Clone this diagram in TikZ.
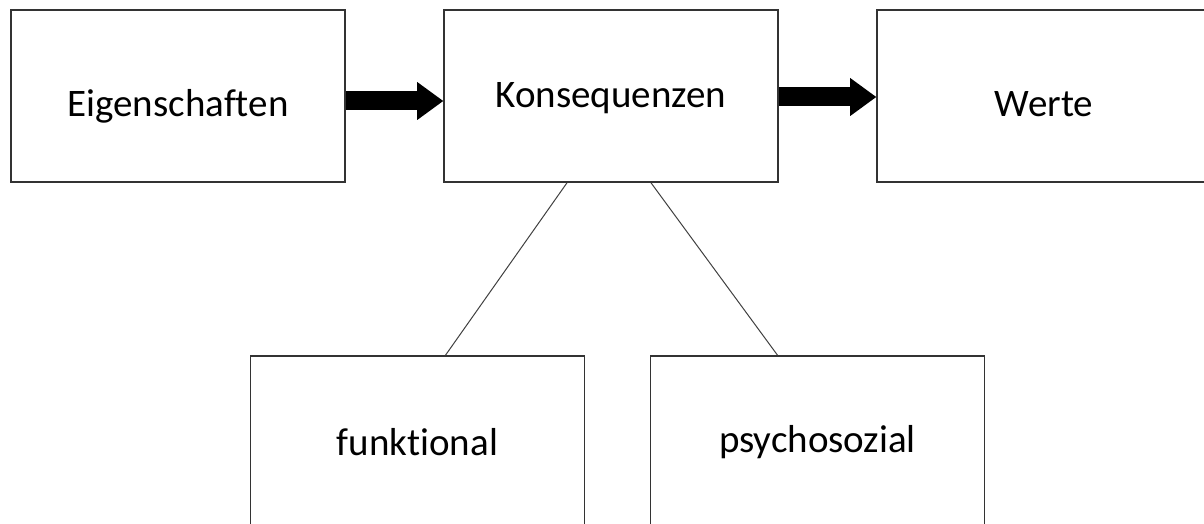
\documentclass[tikz,border=0pt]{standalone}
\usepackage{fontspec}
\setmainfont{Carlito}[Ligatures=NoCommon]
\usetikzlibrary{arrows.meta}

\begin{document}
\begin{tikzpicture}[x=0.5pt, y=-0.5pt,
  box/.style={draw=black!80, line width=0.8pt, minimum width=167pt, minimum height=86pt, inner sep=0pt, text depth=3pt, text height=#1, font=\fontsize{19.5}{23}\selectfont},
  box/.default=24pt,
  bigarrow/.style={line width=9.5pt, -{Triangle[length=13pt, width=19pt, line width=0pt]}},
  link/.style={draw=black!75, line width=0.5pt}]
 \useasboundingbox (0,0) rectangle (1204,524);
 \node[box] (E) at (178,96) {Eigenschaften};
 \node[box=15pt] (K) at (611,96) {Konsequenzen};
 \node[box] (W) at (1044,96) {Werte};
 \node[box=16pt] (F) at (417.5,442) {funktional};
 \node[box=13pt] (P) at (817.5,442) {psychosozial};

 \draw[bigarrow] ([yshift=-2.5pt]E.east) -- ([yshift=-2.5pt]K.west);
 \draw[bigarrow] ([yshift=-0.5pt]K.east) -- ([yshift=-0.5pt]W.west);
 \draw[link] ([xshift=-22pt]K.south) -- ([xshift=14pt]F.north);
 \draw[link] ([xshift=20pt]K.south) -- ([xshift=-20pt]P.north);
\end{tikzpicture}
\end{document}
